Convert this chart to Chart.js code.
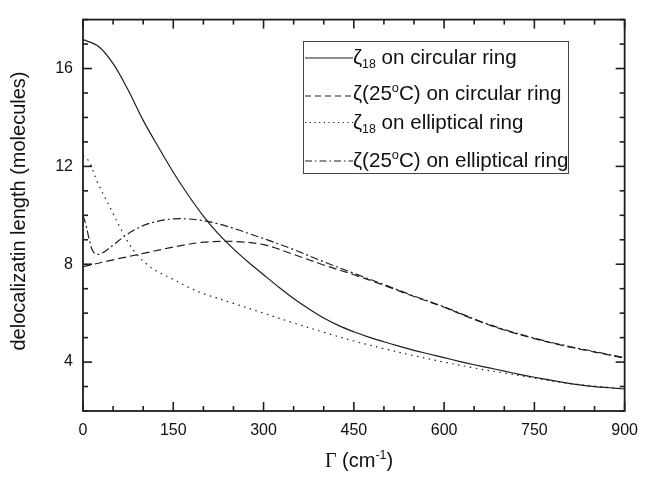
<!DOCTYPE html>
<html>
<head>
<meta charset="utf-8">
<script src="https://cdn.jsdelivr.net/npm/chart.js@4.4.1/dist/chart.umd.min.js"></script>
<style>
  html, body { margin: 0; padding: 0; background: #fff; }
  #wrap { width: 648px; height: 477px; }
</style>
</head>
<body>
<div id="wrap"><canvas id="chart" width="648" height="477"></canvas></div>
<script>
/****************** DATA **********************/

// zeta_18 on circular ring
var gammaCirc18 = [0, 25, 50, 75, 100, 125, 150, 175, 200, 225, 250, 275, 300, 325, 350, 375, 400, 425, 450, 475, 500, 525, 550, 575, 600, 625, 650, 675, 700, 725, 750, 775, 800, 825, 850, 875, 900];
var zetaCirc18  = [17.18, 16.92, 16.2, 15.12, 13.88, 12.8, 11.76, 10.82, 9.97, 9.24, 8.63, 8.08, 7.57, 7.07, 6.6, 6.18, 5.8, 5.49, 5.24, 5.02, 4.83, 4.65, 4.48, 4.33, 4.18, 4.03, 3.89, 3.76, 3.63, 3.5, 3.38, 3.27, 3.16, 3.07, 3.0, 2.95, 2.9];

// zeta(25C) on circular ring
var gammaCirc25 = [0, 50, 100, 150, 200, 250, 300, 350, 400, 450, 500, 550, 600, 650, 700, 750, 800, 850, 900];
var zetaCirc25  = [7.9, 8.18, 8.44, 8.7, 8.9, 8.93, 8.8, 8.4, 7.97, 7.57, 7.14, 6.68, 6.24, 5.74, 5.31, 4.96, 4.66, 4.41, 4.16];

// zeta_18 on elliptical ring
var gammaEll18 = [0, 10, 25, 50, 60, 75, 90, 110, 125, 150, 175, 200, 250, 300, 350, 400, 450, 500, 550, 600, 650, 700, 750, 800, 850, 900];
var zetaEll18  = [12.45, 12.2, 11.3, 10.08, 9.58, 8.9, 8.38, 7.92, 7.68, 7.38, 7.06, 6.8, 6.4, 6.0, 5.6, 5.22, 4.86, 4.55, 4.26, 4.0, 3.76, 3.55, 3.35, 3.15, 3.02, 2.9];

// zeta(25C) on elliptical ring
var gammaEll25 = [0, 5, 10, 15, 20, 25, 35, 50, 75, 100, 125, 150, 175, 200, 225, 250, 275, 300, 350, 400, 450, 500, 550, 600, 650, 700, 750, 800, 850, 900];
var zetaEll25  = [10.0, 9.6, 9.05, 8.6, 8.43, 8.4, 8.5, 8.78, 9.25, 9.58, 9.76, 9.85, 9.85, 9.78, 9.65, 9.47, 9.26, 9.05, 8.6, 8.1, 7.63, 7.17, 6.7, 6.26, 5.76, 5.33, 4.98, 4.68, 4.43, 4.18];

var xTicks = [0, 150, 300, 450, 600, 750, 900];
var yTicks = [4, 8, 12, 16];

/****************** FONCTION **********************/

function toPoints(xs, ys)
{
    return xs.map(function (v, i) { return { x: v, y: ys[i] }; });
}

// legend rows: parts of text, "sub" / "sup" for small lowered or raised text
var legendRows = [
    { dash: [], parts: [{ t: 'ζ' }, { t: '18', sub: true }, { t: ' on circular ring' }] },
    { dash: [6, 4], parts: [{ t: 'ζ(25' }, { t: 'o', sup: true }, { t: 'C) on circular ring' }] },
    { dash: [1.2, 3.5], parts: [{ t: 'ζ' }, { t: '18', sub: true }, { t: ' on elliptical ring' }] },
    { dash: [7, 3, 1.5, 3], parts: [{ t: 'ζ(25' }, { t: 'o', sup: true }, { t: 'C) on elliptical ring' }] }
];

var FONT = '"Liberation Sans", Arial, sans-serif';

function drawRich(ctx, x, y, parts, size, family)
{
    parts.forEach(function (p) {
        var s = size, dy = 0;
        if (p.sub) { s = size * 0.6; dy = 4; }
        if (p.sup) { s = size * 0.62; dy = -8; }
        ctx.font = s + 'px ' + (p.family || family);
        ctx.fillText(p.t, x, y + dy);
        x += ctx.measureText(p.t).width;
    });
    return x;
}

function tick(ctx, x1, y1, x2, y2)
{
    ctx.beginPath();
    ctx.moveTo(x1, y1);
    ctx.lineTo(x2, y2);
    ctx.stroke();
}

var decor = {
    id: 'decor',
    afterDatasetsDraw: function (chart) {
        var ctx = chart.ctx, a = chart.chartArea;
        var sx = chart.scales.x, sy = chart.scales.y;
        ctx.save();
        ctx.strokeStyle = '#1e1e1e';
        ctx.lineWidth = 1.8;
        ctx.setLineDash([]);
        ctx.strokeRect(a.left, a.top, a.right - a.left, a.bottom - a.top);

        // inward ticks on all four sides
        ctx.lineWidth = 1.6;
        var v, px, len;
        for (v = 0; v <= 900; v += 50) {
            px = sx.getPixelForValue(v);
            len = (v % 150 === 0) ? 9 : 5;
            tick(ctx, px, a.bottom, px, a.bottom - len);
            tick(ctx, px, a.top, px, a.top + len);
        }
        for (v = 2; v <= 18; v += 1) {
            px = sy.getPixelForValue(v);
            len = (v % 4 === 0) ? 9 : 5;
            tick(ctx, a.left, px, a.left + len, px);
            tick(ctx, a.right, px, a.right - len, px);
        }

        // legend
        var bx = 303, by = 41, bw = 265, bh = 132;
        ctx.fillStyle = '#fff';
        ctx.fillRect(bx, by, bw, bh);
        ctx.lineWidth = 1;
        ctx.strokeStyle = '#444';
        ctx.strokeRect(bx + 0.5, by + 0.5, bw, bh);
        var baselines = [64, 100, 129, 167];
        var lineYs = [58, 96, 122.5, 161];
        ctx.strokeStyle = '#1e1e1e';
        ctx.fillStyle = '#111';
        ctx.textBaseline = 'alphabetic';
        ctx.textAlign = 'left';
        legendRows.forEach(function (row, i) {
            ctx.setLineDash(row.dash);
            ctx.lineWidth = 1.2;
            tick(ctx, bx + 2, lineYs[i], bx + 50, lineYs[i]);
            ctx.setLineDash([]);
            drawRich(ctx, 353, baselines[i], row.parts, 20.6, FONT);
        });

        // axis titles
        var xt = [{ t: 'Γ', family: '"Liberation Serif", serif' }, { t: ' (cm' }, { t: '-1', sup: true }, { t: ')' }];
        drawRich(ctx, 325, 467, xt, 20, FONT);

        ctx.translate(25, 211);
        ctx.rotate(-Math.PI / 2);
        ctx.textAlign = 'center';
        ctx.font = '20px ' + FONT;
        ctx.fillText('delocalizatin length (molecules)', 0, 0);
        ctx.restore();
    }
};

function makeDataset(label, xs, ys, dash)
{
    return {
        label: label,
        data: toPoints(xs, ys),
        borderColor: '#1e1e1e',
        borderWidth: 1.2,
        borderDash: dash,
        pointRadius: 0,
        fill: false,
        tension: 0.35
    };
}

function makeChart()
{
    var ctx = document.getElementById('chart').getContext('2d');
    window.myChart = new Chart(ctx, {
        type: 'line',
        data: {
            datasets: [
                makeDataset('ζ18 on circular ring', gammaCirc18, zetaCirc18, []),
                makeDataset('ζ(25oC) on circular ring', gammaCirc25, zetaCirc25, [8, 4]),
                makeDataset('ζ18 on elliptical ring', gammaEll18, zetaEll18, [1.5, 4.5]),
                makeDataset('ζ(25oC) on elliptical ring', gammaEll25, zetaEll25, [8, 3, 2, 3])
            ]
        },
        options: {
            responsive: false,
            animation: false,
            layout: { padding: { left: 0, right: 13, top: 7, bottom: 0 } },
            plugins: {
                legend: { display: false },
                tooltip: { enabled: false }
            },
            scales: {
                x: {
                    type: 'linear',
                    min: 0,
                    max: 900,
                    afterFit: function (s) { s.height = 66; },
                    afterBuildTicks: function (s) { s.ticks = xTicks.map(function (v) { return { value: v }; }); },
                    grid: { display: false, drawTicks: false },
                    border: { display: false },
                    ticks: {
                        padding: 10,
                        color: '#111',
                        maxRotation: 0,
                        font: { family: FONT, size: 16 }
                    }
                },
                y: {
                    type: 'linear',
                    min: 2,
                    max: 18,
                    afterFit: function (s) { s.width = 83; },
                    afterBuildTicks: function (s) { s.ticks = yTicks.map(function (v) { return { value: v }; }); },
                    grid: { display: false, drawTicks: false },
                    border: { display: false },
                    ticks: {
                        padding: 10,
                        color: '#111',
                        font: { family: FONT, size: 16 }
                    }
                }
            }
        },
        plugins: [decor]
    });
}

makeChart();
</script>
</body>
</html>
